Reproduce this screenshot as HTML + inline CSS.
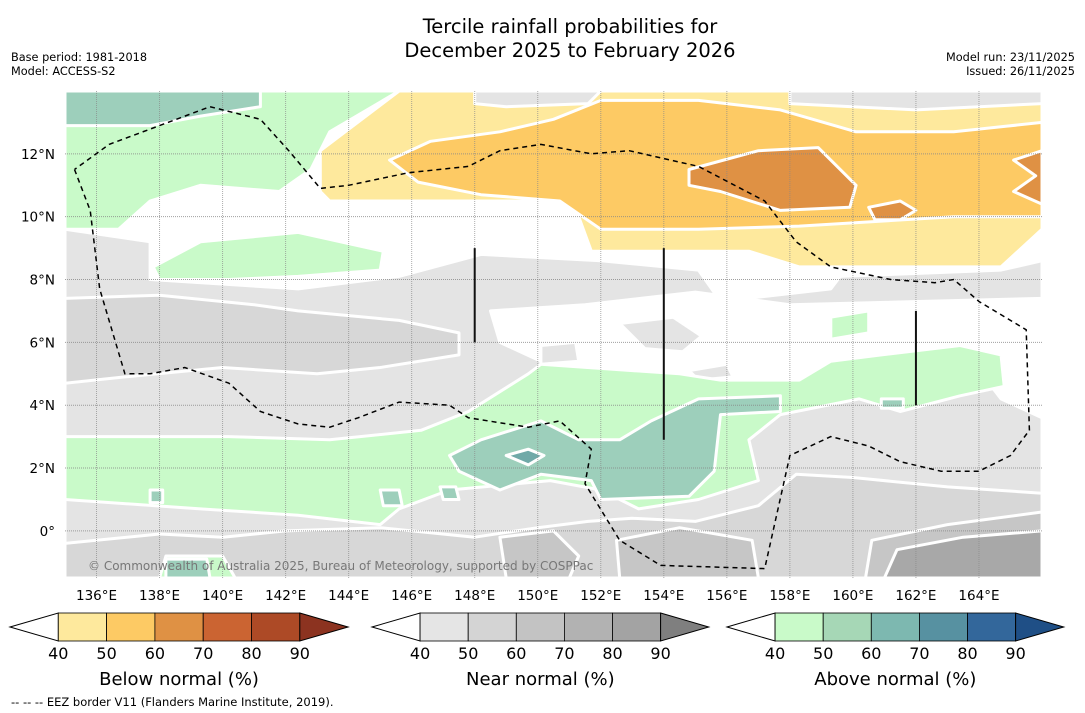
<!DOCTYPE html>
<html><head><meta charset="utf-8">
<style>
html,body{margin:0;padding:0;background:#fff;}
body{width:1085px;height:713px;position:relative;overflow:hidden;font-family:"DejaVu Sans","Liberation Sans",sans-serif;}
.t{position:absolute;white-space:nowrap;color:#000;}
</style></head>
<body>
<div class="t" style="left:0;width:1140px;text-align:center;top:15px;font-size:19.5px;line-height:24px;">Tercile rainfall probabilities for<br>December 2025 to February 2026</div>
<div class="t" style="left:11px;top:51px;font-size:11.3px;line-height:14px;">Base period: 1981-2018<br>Model: ACCESS-S2</div>
<div class="t" style="right:10px;top:51px;font-size:11.3px;line-height:14px;text-align:right;">Model run: 23/11/2025<br>Issued: 26/11/2025</div>
<svg id="map" width="1085" height="713" style="position:absolute;left:0;top:0;" xmlns="http://www.w3.org/2000/svg"></svg>
<script>
const lonTicks=[136,138,140,142,144,146,148,150,152,154,156,158,160,162,164];
const latTicks=[0,2,4,6,8,10,12];
const latTickLabels=["0°","2°N","4°N","6°N","8°N","10°N","12°N"];
// contour regions [lon,lat]
const regLightGrey=[[135,9.6],[137.7,9.2],[137.7,8.0],[142.4,7.7],[145.6,8.1],[148.2,8.8],[152,8.6],[155.1,8.3],[155.8,7.3],[159.3,7.7],[159.6,8.1],[164.7,8.3],[166,8.6],[166,-1.5],[135,-1.5]];
const regWhiteMid=[[151.5,7.2],[155,7.6],[158,7.2],[166,7.4],[166,3.6],[164.7,4.2],[163.4,5.9],[161.2,5.6],[159.3,5.4],[158.3,4.8],[155.1,4.8],[150.1,5.4],[148.8,6.0],[148.5,7.0]];
const regGreyBlobs=[[[152.6,6.6],[154.3,6.8],[155.2,6.2],[154.6,5.7],[153.4,5.8]],[[150.1,5.9],[151.2,6.0],[151.3,5.4],[150.1,5.3]],[[154.8,5.1],[156,5.3],[156.2,4.9],[155.1,4.8]]];
const regMidGrey=[[[135,7.4],[138,7.5],[141,7.2],[142.4,7.0],[145.6,6.7],[147.5,6.3],[147.5,5.6],[145,5.2],[143,5.0],[140,5.2],[136.9,4.9],[135,4.7]],
 [[135,-0.4],[138,-0.1],[140,-0.2],[142,0],[145,0.1],[148,-0.2],[150,0.1],[151.6,0.3],[153,0.4],[155,0.3],[157,0.8],[158.2,1.8],[160,1.7],[163,1.4],[166,1.2],[166,-1.5],[135,-1.5]]];
const regDarkGrey=[[[160.6,-0.3],[163,0.2],[166,0.6],[166,-1.5],[160.4,-1.5]],[[152.5,-0.3],[154.5,0.1],[156.8,-0.3],[157,-1.5],[152.6,-1.5]],[[148.8,-0.2],[150.5,0],[151.3,-0.8],[151,-1.5],[149,-1.5]]];
const regDarkestGrey=[[161.4,-0.6],[163.5,-0.2],[166,0],[166,-1.5],[161,-1.5]];
const regGreenMain=[[135,3.0],[140.2,3.0],[143.4,2.9],[146.3,3.2],[147.8,3.8],[149.7,5.0],[150.1,5.3],[154.5,5.0],[155.8,4.8],[158.3,4.8],[159.3,5.4],[160.9,5.6],[163.4,5.9],[164.7,5.6],[164.8,4.6],[163.4,4.3],[161.5,3.8],[160.2,4.2],[157.7,3.7],[156.7,2.9],[157,1.6],[155.1,1.0],[153.2,0.7],[152,1.3],[150.4,1.6],[147.2,1.3],[145.6,0.7],[145,0.2],[142.4,0.5],[139.3,0.7],[135,1.0]];
const regGreenSmall=[[[159.3,6.8],[160.5,7.0],[160.5,6.3],[159.3,6.1]],[[138.2,-0.8],[140,-0.8],[140.4,-1.5],[138,-1.5]]];
const regTealMain=[[147.2,2.4],[148.2,2.9],[150.1,3.5],[151.3,2.9],[152.6,2.9],[153.6,3.5],[155.1,4.2],[157.7,4.3],[157.7,3.8],[155.8,3.7],[155.6,1.9],[154.8,1.1],[152,1.0],[151.7,1.6],[150.1,1.8],[148.8,1.3],[147.5,1.9]];
const regTealSmall=[[[137.7,1.3],[138.1,1.3],[138.1,0.9],[137.7,0.9]],[[146.9,1.4],[147.4,1.4],[147.5,1.0],[147,1.0]],[[145,1.3],[145.6,1.3],[145.7,0.8],[145.1,0.8]],[[160.9,4.2],[161.6,4.2],[161.6,3.9],[160.9,3.9]],[[138.2,-0.9],[139.5,-0.9],[139.6,-1.5],[138.2,-1.5]]];
const regTealDark=[[149,2.4],[149.7,2.6],[150.2,2.4],[149.7,2.1]];
const regGreenTop=[[135,14],[145.6,14],[143.4,12.7],[142.8,11.5],[141.8,10.8],[139.3,11],[137.7,10.5],[136.7,9.6],[135,9.6]];
const regTealTop=[[135,14],[141.2,14],[141.2,13.5],[139.3,13.2],[137.7,12.9],[135,12.9]];
const regGreenMid=[[137.8,8.4],[139.3,9.2],[142.4,9.5],[145.1,8.9],[145,8.3],[142.4,8.1],[140.2,8.0],[138,8.0]];
const regYellow=[[143.1,10.8],[143.1,12.1],[145.6,14],[166,14],[166,9.6],[164.7,8.4],[158.3,8.4],[156.7,8.9],[151.7,8.9],[151.3,10],[150.7,10.5],[143.4,10.5]];
const regGreyTop=[[[148,14],[152,14],[151.6,13.6],[149,13.5],[148,13.6]],[[158,14],[166,14],[166,13.6],[162,13.4],[158,13.6]]];
const regOrange=[[145.3,11.8],[146.6,12.4],[148.8,12.7],[150.5,13.1],[152,13.7],[155.1,13.7],[157.7,13.4],[160.1,12.7],[163.2,12.7],[166,13],[166,10],[163.2,10],[158.3,9.7],[155.1,9.6],[152,9.6],[150.7,10.5],[148.2,10.7],[146.2,11.1]];
const regDarkOrange=[[[154.8,11.5],[157,12.1],[158.9,12.2],[160.1,11],[159.9,10.3],[157.7,10.2],[155.8,10.8],[154.8,11.0]],[[160.5,10.3],[161.5,10.5],[162.0,10.2],[161.5,9.9],[160.7,9.9]],[[165.1,11.8],[166,12.1],[166,10.4],[165.1,10.8],[165.8,11.3]]];
const eezLine=[[135.3,11.5],[135.8,10.2],[136.1,7.7],[136.9,5.0],[137.7,5.0],[138.8,5.2],[140.2,4.7],[141.2,3.8],[142.4,3.4],[143.4,3.3],[144.3,3.6],[145.6,4.1],[147.2,4.0],[147.8,3.6],[149.7,3.3],[150.7,3.5],[151.7,2.6],[151.5,1.5],[152.6,-0.3],[153.9,-1.1],[157.2,-1.2],[158,2.4],[159.3,3.0],[160.5,2.7],[161.5,2.2],[162.8,1.9],[164,1.9],[165,2.4],[165.6,3.2],[165.5,6.4],[164,7.3],[163.2,8.0],[162.6,7.9],[161.2,8.0],[159.3,8.4],[158.2,9.2],[157.2,10.5],[155.1,11.6],[152.9,12.1],[151.7,12.0],[150.1,12.3],[148.8,12.1],[147.8,11.6],[145.9,11.4],[144,11.0],[143.1,10.9],[142.1,12.1],[141.2,13.1],[139.6,13.5],[138,12.9],[136.4,12.3],[135.3,11.5]];
const bars=[[148,9.0,6.0],[154,9.0,2.9],[162,7.0,4.0]];
const belowColors=["#fee99d","#fdca64","#df9144","#cb6432","#ad4a26"],belowTip="#8c3320";
const nearColors=["#e5e5e5","#d4d4d4","#c3c3c3","#b2b2b2","#a3a3a3"],nearTip="#7f7f7f";
const aboveColors=["#c9fac9","#a6d7b6","#7db8b0","#5791a1","#33679b"],aboveTip="#1f4f86";
const cbLabels=["40","50","60","70","80","90"];

const L0=135,L1=166,T0=14,T1=-1.5,X0=65,X1=1042,Y0=91,Y1=578;
const sx=l=>X0+(l-L0)/(L1-L0)*(X1-X0);
const sy=t=>Y0+(T0-t)/(T0-T1)*(Y1-Y0);
const svg=document.getElementById('map');
const NS="http://www.w3.org/2000/svg";
function mk(tag,attrs){const e=document.createElementNS(NS,tag);for(const k in attrs)e.setAttribute(k,attrs[k]);svg.appendChild(e);return e;}
function poly(pts,fill,name){const e=mk('polygon',{points:pts.map(p=>sx(p[0]).toFixed(1)+','+sy(p[1]).toFixed(1)).join(' '),fill:fill,stroke:'#fff','stroke-width':3,'stroke-linejoin':'round'});

return e;}
const clip=mk('clipPath',{id:'mc'});const cr=document.createElementNS(NS,'rect');cr.setAttribute('x',X0);cr.setAttribute('y',Y0);cr.setAttribute('width',X1-X0);cr.setAttribute('height',Y1-Y0);clip.appendChild(cr);
const g=mk('g',{'clip-path':'url(#mc)'});
function gp(pts,fill,name){const e=poly(pts,fill,name);g.appendChild(e);}
gp(regLightGrey,'#e4e4e4','near-normal-40-region');
gp(regWhiteMid,'#ffffff','no-signal-region');
regGreyBlobs.forEach(r=>gp(r,'#e4e4e4','near-normal-40-blob'));
regMidGrey.forEach(r=>gp(r,'#d7d7d7','near-normal-50-region'));
regDarkGrey.forEach(r=>gp(r,'#c6c6c6','near-normal-60-region'));
gp(regDarkestGrey,'#a8a8a8','near-normal-70-region');
gp(regGreenMain,'#c9fac9','above-normal-40-region');
regGreenSmall.forEach(r=>gp(r,'#c9fac9','above-normal-40-blob'));
gp(regTealMain,'#9dcfbb','above-normal-50-region');
regTealSmall.forEach(r=>gp(r,'#9dcfbb','above-normal-50-blob'));
gp(regTealDark,'#70a9a8','above-normal-60-region');
gp(regGreenTop,'#c9fac9','above-normal-40-north');
gp(regTealTop,'#9dcfbb','above-normal-50-north');
gp(regGreenMid,'#c9fac9','above-normal-40-mid');
gp(regYellow,'#fee99d','below-normal-40-region');
regGreyTop.forEach(r=>gp(r,'#e4e4e4','near-normal-40-north'));
gp(regOrange,'#fdca64','below-normal-50-region');
regDarkOrange.forEach(r=>gp(r,'#df9144','below-normal-60-region'));
// grid
lonTicks.forEach((l,i)=>{const e=mk('line',{x1:sx(l),x2:sx(l),y1:Y0,y2:Y1,stroke:'#888','stroke-width':1,'stroke-dasharray':'1,1','opacity':0.7});


const t=mk('text',{x:sx(l),y:600,'text-anchor':'middle','font-size':13.5});t.textContent=l+'°E';

});
latTicks.forEach((t0,i)=>{const e=mk('line',{x1:X0,x2:X1,y1:sy(t0),y2:sy(t0),stroke:'#888','stroke-width':1,'stroke-dasharray':'1,1','opacity':0.8});


const t=mk('text',{x:55,y:sy(t0)+5,'text-anchor':'end','font-size':13.5});t.textContent=latTickLabels[i];

});
bars.forEach(b=>{const e=mk('line',{x1:sx(b[0]),x2:sx(b[0]),y1:sy(b[1]),y2:sy(b[2]),stroke:'#111','stroke-width':2});

});
const eez=mk('polyline',{points:eezLine.map(p=>sx(p[0]).toFixed(1)+','+sy(p[1]).toFixed(1)).join(' '),fill:'none',stroke:'#000','stroke-width':1.5,'stroke-dasharray':'5,4'});


const cp=mk('text',{x:88,y:570,'font-size':12,fill:'#777'});cp.textContent='© Commonwealth of Australia 2025, Bureau of Meteorology, supported by COSPPac';


// colorbars
function cbar(x0,w,colors,tip,title,name){
 const y0=613,y1=641,ym=627;
 const a=mk('polygon',{points:`${x0},${ym} ${x0+w},${y0} ${x0+w},${y1}`,fill:'#fff',stroke:'#000','stroke-width':1});
 
 
 colors.forEach((c,i)=>{const r=mk('rect',{x:x0+w+i*w,y:y0,width:w,height:y1-y0,fill:c,stroke:'#000','stroke-width':0.8});
 
 });
 const b=mk('polygon',{points:`${x0+6*w},${y0} ${x0+7*w},${ym} ${x0+6*w},${y1}`,fill:tip,stroke:'#000','stroke-width':1});
 
 
 cbLabels.forEach((s,i)=>{const t=mk('text',{x:x0+w+i*w,y:659,'text-anchor':'middle','font-size':16});t.textContent=s;
 
 });
 const t=mk('text',{x:x0+3.5*w,y:685,'text-anchor':'middle','font-size':18});t.textContent=title;
 
 
}
cbar(10,48.3,belowColors,belowTip,'Below normal (%)','below-normal-colorbar');
cbar(372,48.1,nearColors,nearTip,'Near normal (%)','near-normal-colorbar');
cbar(727,48.1,aboveColors,aboveTip,'Above normal (%)','above-normal-colorbar');
const fn=mk('text',{x:11,y:706,'font-size':11.5});fn.textContent='--  --  -- EEZ border V11 (Flanders Marine Institute, 2019).';


</script>
</body></html>
